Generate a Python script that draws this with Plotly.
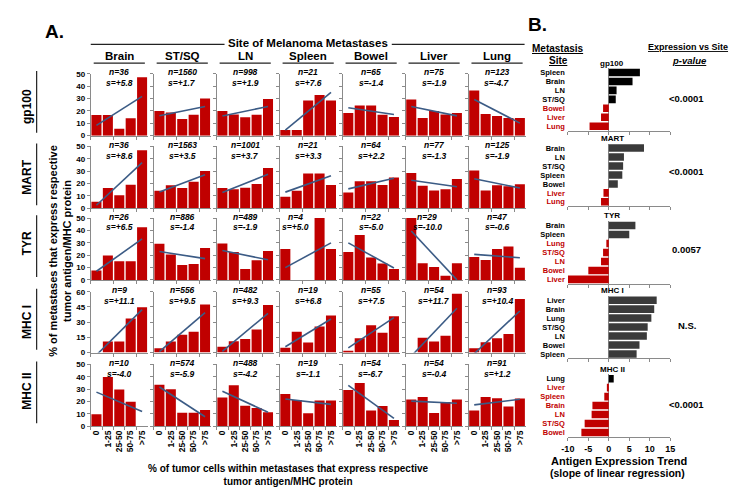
import numpy as np
import plotly.graph_objects as go

W, H = 739, 487
FONT = "Liberation Sans, Arial, sans-serif"

# ---------------- data ----------------
sites = ["Brain", "ST/SQ", "LN", "Spleen", "Bowel", "Liver", "Lung"]
antigens = ["gp100", "MART", "TYR", "MHC I", "MHC II"]
bins = ["0", "1-25", "25-50", "50-75", ">75"]

gp100_pct = [[16.7, 16.7, 5.6, 14.1, 47.2], [19.9, 18.8, 13.5, 17.0, 30.0],
             [19.9, 17.2, 14.9, 17.0, 29.7], [4.5, 4.5, 28.4, 32.9, 28.4],
             [18.3, 24.4, 24.4, 17.0, 15.1], [29.2, 14.3, 19.9, 17.2, 18.3],
             [36.6, 17.5, 15.9, 14.3, 14.3]]
mart_pct = [[5.3, 16.4, 10.6, 19.1, 47.0], [14.1, 18.6, 16.4, 21.5, 30.2],
            [16.4, 15.4, 16.7, 19.6, 32.6], [9.3, 14.1, 28.1, 28.1, 18.8],
            [12.7, 21.8, 21.8, 18.8, 24.9], [28.6, 18.3, 14.3, 15.4, 23.6],
            [30.5, 14.3, 18.6, 17.8, 19.4]]
tyr_pct = [[7.7, 19.7, 15.2, 15.2, 42.6], [29.3, 20.5, 12.0, 13.0, 25.8],
           [29.5, 22.6, 8.8, 16.0, 23.4], [25.0, 0.0, 0.0, 50.0, 25.0],
           [22.6, 36.4, 18.1, 13.3, 8.8], [58.0, 13.6, 10.4, 3.5, 13.6],
           [18.6, 16.2, 25.0, 27.1, 9.8]]
mhc1_pct = [[0.0, 10.9, 10.9, 33.7, 44.6], [4.2, 10.9, 17.6, 20.5, 47.4],
            [5.8, 11.2, 13.5, 22.8, 46.8], [4.8, 20.5, 9.9, 25.6, 36.5],
            [1.3, 14.1, 26.9, 19.6, 35.9], [0.0, 14.7, 10.9, 16.7, 58.0],
            [4.2, 10.3, 14.1, 18.3, 52.9]]
mhc2_pct = [[9.6, 39.7, 29.6, 19.7, 0.0], [33.6, 29.9, 10.9, 10.9, 13.1],
            [23.2, 33.1, 16.5, 14.7, 11.2], [26.1, 21.1, 10.4, 20.8, 20.8],
            [29.3, 34.9, 12.8, 16.3, 5.1], [21.6, 23.7, 10.7, 19.5, 21.6],
            [12.8, 23.7, 22.7, 16.0, 22.4]]

gp100_n = [36, 1560, 998, 21, 65, 75, 123]
mart_n = [36, 1563, 1001, 21, 64, 77, 125]
tyr_n = [26, 886, 489, 4, 22, 29, 47]
mhc1_n = [9, 556, 482, 19, 55, 54, 93]
mhc2_n = [10, 574, 488, 19, 54, 54, 91]

gp100_s = [5.8, 1.7, 1.9, 7.6, -1.4, -1.9, -4.7]
mart_s = [8.6, 3.5, 3.7, 3.3, 2.2, -1.3, -1.9]
tyr_s = [6.5, -1.4, -1.9, 5.0, -5.0, -10.0, -0.6]
mhc1_s = [11.1, 9.5, 9.3, 6.8, 7.5, 11.7, 10.4]
mhc2_s = [-4.0, -5.9, -4.2, -1.1, -6.7, -0.4, 1.2]

p_values = ["<0.0001", "<0.0001", "0.0057", "N.S.", "<0.0001"]
trend_ticks = [-10, -5, 0, 5, 10, 15]

pct_all = [gp100_pct, mart_pct, tyr_pct, mhc1_pct, mhc2_pct]
n_all = [gp100_n, mart_n, tyr_n, mhc1_n, mhc2_n]
s_all = [gp100_s, mart_s, tyr_s, mhc1_s, mhc2_s]

# ---------------- layout geometry (pixels) ----------------
colL = [77 + 64 * c for c in range(7)]
colW = 58
rowT = [63, 137, 210, 285, 359]
rowB = [126, 200, 273, 347, 422]
yMax = [50, 50, 50, 60, 50]
yDt = [10, 10, 10, 15, 10]

bL, bR = 562, 666
bT = [57, 134, 213, 289, 369]
bB = [121, 198, 277, 353, 433]
bTitleY = [52, 129, 207, 284, 364]
pvalY = [88, 163, 242, 319, 400]
posColor = ["#000000", "#3a3a3a", "#3a3a3a", "#3a3a3a", "#000000"]
RED = "#c00000"
AX = "#8a8a8a"


def px(x):
    return x / W


def py(y):
    return 1 - y / H


fig = go.Figure()
layout = {}
annotations = []
shapes = []


def ann(text, x, y, size, bold=True, italic=False, angle=0, color="black", **kw):
    annotations.append(dict(
        text=text, x=px(x), y=py(y), xref="paper", yref="paper", showarrow=False,
        textangle=angle, xanchor=kw.pop("xanchor", "center"), yanchor=kw.pop("yanchor", "middle"),
        font=dict(family=FONT, size=size, color=color,
                  weight="bold" if bold else "normal",
                  style="italic" if italic else "normal"), **kw))


def line(x0, y0, x1, y1, color="#222", width=1.2):
    shapes.append(dict(type="line", xref="paper", yref="paper",
                       x0=px(x0), y0=py(y0), x1=px(x1), y1=py(y1),
                       line=dict(color=color, width=width)))


# ---------------- panel A ----------------
nudge = {(2, 3): -13, (2, 5): -7}
for r in range(5):
    for c in range(7):
        i = r * 7 + c + 1
        xa = "x" if i == 1 else f"x{i}"
        ya = "y" if i == 1 else f"y{i}"
        vals = pct_all[r][c]
        fig.add_trace(go.Bar(x=bins, y=vals, width=0.88, marker=dict(color=RED, line=dict(width=0)),
                             xaxis=xa, yaxis=ya, showlegend=False))
        k, b0 = np.polyfit(np.arange(5), np.array(vals), 1)
        fig.add_trace(go.Scatter(x=[bins[0], bins[-1]], y=[b0, b0 + 4 * k], mode="lines",
                                 line=dict(color="#3b5b85", width=1.6),
                                 xaxis=xa, yaxis=ya, showlegend=False))
        key = "" if i == 1 else str(i)
        layout[f"xaxis{key}"] = dict(
            domain=[px(colL[c]), px(colL[c] + colW)], anchor=ya, type="category",
            categoryorder="array", categoryarray=bins, range=[-0.5, 4.5],
            showline=True, linecolor=AX, linewidth=1, ticks="outside", tickson="boundaries",
            ticklen=3, tickcolor=AX, showgrid=False, showticklabels=(r == 4), tickangle=-90,
            tickfont=dict(family=FONT, size=8.5, color="black", weight="bold"))
        layout[f"yaxis{key}"] = dict(
            domain=[py(rowB[r]), py(rowT[r])], anchor=xa, range=[0, yMax[r]], dtick=yDt[r],
            showline=True, linecolor=AX, linewidth=1, ticks="outside", ticklen=3, tickcolor=AX,
            showgrid=False, zeroline=False, showticklabels=(c == 0),
            tickfont=dict(family=FONT, size=8, color="black", weight="bold"))
        cx = colL[c] + colW / 2 + nudge.get((r, c), 0)
        ann(f"n={n_all[r][c]}", cx, rowT[r] - 1.5, 8.5, italic=True)
        ann(f"s={s_all[r][c]:+.1f}", cx, rowT[r] + 9.5, 8.5, italic=True)

# column headers
for c, s in enumerate(sites):
    ann(s, colL[c] + colW / 2, 45, 11.5)
    line(colL[c] + 3, 52, colL[c] + colW - 3, 52)
ann("Site of Melanoma Metastases", 298, 32, 11.5)
line(77, 33, 213, 33)
line(383, 33, 518, 33)

# row labels
rowLabY = [96, 168, 236, 316, 386]
for r, a in enumerate(antigens):
    ann(a, 12, rowLabY[r], 12, angle=-90)
    line(22, rowT[r] - 3, 22, rowB[r] - 3)

ann("% of metastases that express respective<br>tumor antigen/MHC protein", 45, 243, 11, angle=-90)
ann("% of tumor cells within metastases that express respective<br>tumor antigen/MHC protein",
    278, 472, 10)
ann("A.", 40, 20, 19)
ann("B.", 531, 13, 19)

# ---------------- panel B ----------------
for r in range(5):
    i = 36 + r
    xa, ya = f"x{i}", f"y{i}"
    order = sorted(range(7), key=lambda j: -s_all[r][j])
    vals = [s_all[r][j] for j in order]
    names = [sites[j] for j in order]
    cols = [posColor[r] if v > 0 else RED for v in vals]
    fig.add_trace(go.Bar(x=vals, y=list(range(7)), orientation="h", width=0.84,
                         marker=dict(color=cols, line=dict(width=0)),
                         xaxis=xa, yaxis=ya, showlegend=False))
    ticktext = [f'<span style="color:{"black" if v > 0 else RED}">{nm}</span>'
                for nm, v in zip(names, vals)]
    layout[f"xaxis{i}"] = dict(
        domain=[px(bL), px(bR)], anchor=ya, range=[-10, 15],
        tickvals=trend_ticks, ticktext=[str(t) for t in trend_ticks],
        showline=True, linecolor=AX, linewidth=1, ticks="outside", ticklen=3, tickcolor=AX,
        showgrid=False, zeroline=True, zerolinecolor=AX, zerolinewidth=1,
        showticklabels=(r == 4),
        tickfont=dict(family=FONT, size=9, color="black", weight="bold"))
    layout[f"yaxis{i}"] = dict(
        domain=[py(bB[r]), py(bT[r])], anchor=xa, range=[6.5, -0.5],
        tickvals=list(range(7)), ticktext=ticktext, ticks="", showline=False,
        showgrid=False, zeroline=False, ticklabelstandoff=2,
        tickfont=dict(family=FONT, size=7.5, color="black", weight="bold"))
    ann(antigens[r], 607, bTitleY[r], 8)
    ann(p_values[r], 683, pvalY[r], 9.5)

ann("<u>Metastasis</u>", 552, 37, 10)
ann("<u>Site</u>", 552, 49, 10)
ann("<u>Expression vs Site</u>", 684, 36, 9)
ann("<u><i>p-value</i></u>", 686, 49, 9.5)
ann("Antigen Expression Trend", 614, 457, 11)
ann("(slope of linear regression)", 612, 470, 10.5)

fig.update_layout(
    width=W, height=H, margin=dict(l=0, r=0, t=0, b=0),
    paper_bgcolor="white", plot_bgcolor="white", bargap=0.1,
    annotations=annotations, shapes=shapes,
    font=dict(family=FONT, color="black"), **layout)

fig.write_html("out.html")
